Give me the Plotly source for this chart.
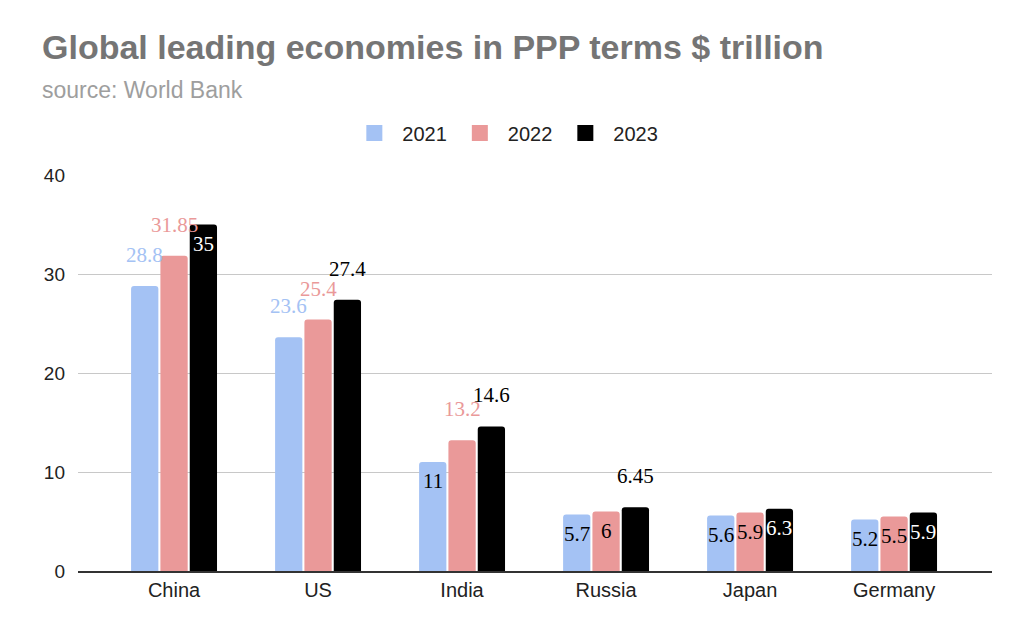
import plotly.graph_objects as go

# data
countries = ["China", "US", "India", "Russia", "Japan", "Germany"]
years = ["2021", "2022", "2023"]
gdp_2021 = [28.8, 23.6, 11, 5.7, 5.6, 5.2]
gdp_2022 = [31.85, 25.4, 13.2, 6, 5.9, 5.5]
gdp_2023 = [35, 27.4, 14.6, 6.45, 6.3, 5.9]
y_ticks = [0, 10, 20, 30, 40]

# styling
bar_colors = ["#a4c2f4", "#ea9999", "#000000"]
inside_text_colors = ["#000000", "#000000", "#ffffff"]
# where each value label sits: "out" above the bar, "in" inside the top
label_place = [
    ["out", "out", "in", "in", "in", "in"],
    ["out", "out", "out", "in", "in", "in"],
    ["in", "out", "out", "out", "in", "in"],
]
bar_step_px = 29.3

series = [gdp_2021, gdp_2022, gdp_2023]

fig = go.Figure()
for name, vals, col in zip(years, series, bar_colors):
    fig.add_trace(go.Bar(
        x=countries, y=vals, name=name, showlegend=False,
        marker=dict(color=col, line=dict(width=0)),
        hoverinfo="x+y",
    ))
    # legend entry with a bigger square swatch
    fig.add_trace(go.Scatter(
        x=[None], y=[None], mode="markers", name=name,
        marker=dict(symbol="square", size=18, color=col),
    ))

annotations = []
for i, vals in enumerate(series):
    dx = (i - 1) * bar_step_px
    for c, v, place in zip(countries, vals, label_place[i]):
        if place == "in":
            col, ys = inside_text_colors[i], -19
        else:
            col, ys = bar_colors[i], 31
        annotations.append(dict(
            x=c, y=v, xref="x", yref="y", text=f"{v:g}", showarrow=False,
            xshift=dx, yshift=ys,
            font=dict(family="Liberation Serif", size=21, color=col),
        ))

annotations.append(dict(
    text="<b>Global leading economies in PPP terms $ trillion</b>",
    xref="paper", yref="paper", x=-0.042, y=1.323, xanchor="left", yanchor="middle",
    showarrow=False, font=dict(family="Liberation Sans", size=34, color="#757575"),
))
annotations.append(dict(
    text="source: World Bank",
    xref="paper", yref="paper", x=-0.042, y=1.215, xanchor="left", yanchor="middle",
    showarrow=False, font=dict(family="Liberation Sans", size=23, color="#9e9e9e"),
))

fig.update_layout(
    width=1016, height=625,
    margin=dict(l=70, r=32, t=167, b=62),
    paper_bgcolor="white", plot_bgcolor="white",
    barmode="group", bargap=0.389, bargroupgap=0.07, barcornerradius=3,
    font=dict(family="Liberation Sans", size=16, color="#222222"),
    showlegend=True,
    legend=dict(
        orientation="h", x=0.467, y=1.106, xanchor="center", yanchor="middle",
        font=dict(family="Liberation Sans", size=20, color="#222222"),
        itemwidth=46, itemsizing="trace", traceorder="normal",
    ),
    annotations=annotations,
    xaxis=dict(
        range=[-0.667, 5.68], showgrid=False, showline=True, linecolor="#333333",
        linewidth=1.5, ticks="", tickfont=dict(size=20, color="#222222"),
    ),
    yaxis=dict(
        range=[0, 40], tickvals=y_ticks, showgrid=True, gridcolor="#c8c8c8",
        gridwidth=1, zeroline=False, ticks="", ticklabelstandoff=12,
        tickfont=dict(size=19, color="#222222"),
    ),
)

fig.write_html("out.html")
